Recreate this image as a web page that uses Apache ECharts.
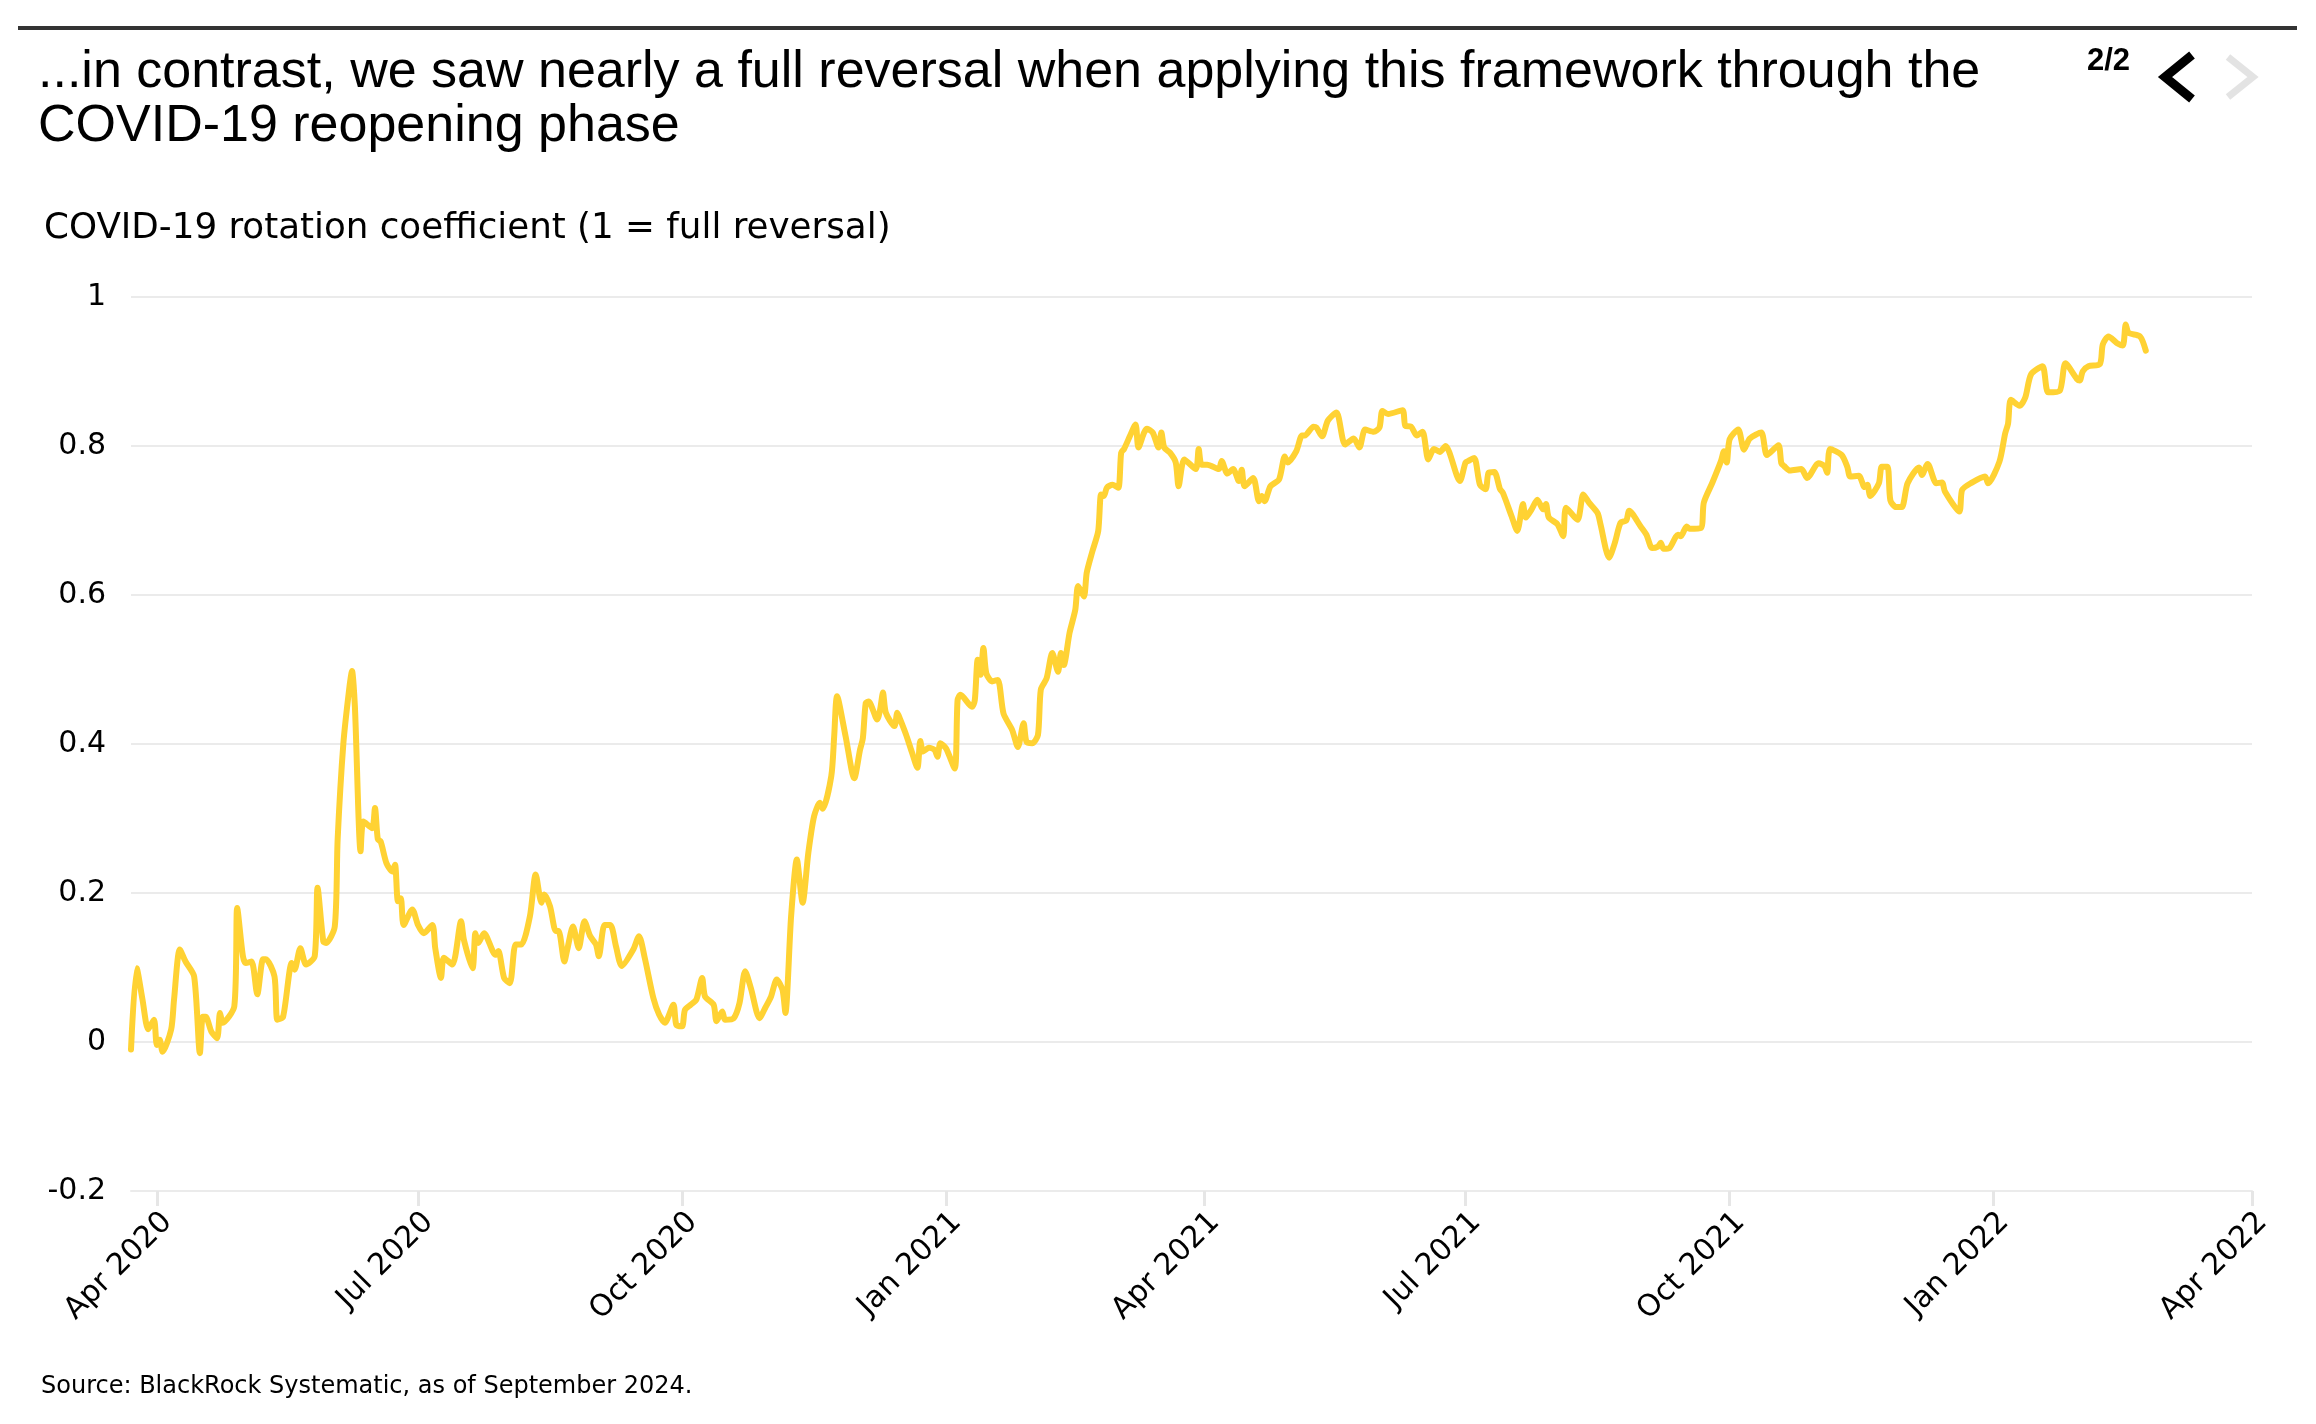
<!DOCTYPE html>
<html>
<head>
<meta charset="utf-8">
<script src="https://cdn.jsdelivr.net/npm/echarts@6/dist/echarts.min.js"></script>
<style>
html,body{margin:0;padding:0;background:#fff;}
#chart{width:2316px;height:1424px;}
</style>
</head>
<body>
<div id="chart"></div>
<script>
const days = [-9,-7,-5,-3,-1,0,1,2,5,6,8,10,13,15,16,17,19,21,22,23,27,28,30,31,33,35,37,38,41,42,44,47,48,50,52,55,56,58,59,62,63,65,67,68,69,71,72,75,76,77,78,80,82,83,84,85,86,89,91,93,96,97,99,100,103,106,107,110,111,112,114,118,119,121,123,125,127,130,132,134,135,137,139,140,142,143,145,147,149,151,153,154,156,158,160,162,166,168,170,173,175,177,180,181,183,184,186,188,190,191,194,195,197,198,201,203,205,207,210,212,214,216,218,219,221,223,225,227,229,231,232,235,236,237,240,243,245,246,247,248,251,252,253,254,257,258,259,261,263,265,266,267,269,271,272,273,275,278,279,280,284,285,286,287,288,289,291,293,295,298,300,302,303,305,307,308,310,312,314,315,316,318,320,321,323,324,326,328,329,330,331,333,335,336,337,339,341,342,344,345,347,349,350,351,353,355,356,358,362,363,364,366,370,371,373,375,377,378,379,382,384,385,386,388,391,393,394,397,399,400,403,404,406,408,411,414,417,419,421,424,426,427,429,434,435,437,439,441,443,445,447,449,454,456,457,459,461,463,464,466,468,469,472,474,476,477,479,481,483,484,485,488,490,491,495,497,499,502,503,506,508,510,512,513,517,519,521,523,524,525,527,530,531,533,534,538,539,542,545,546,547,548,551,553,555,559,561,565,566,567,569,573,575,579,581,582,583,587,589,590,593,595,596,597,600,601,603,604,606,608,610,614,615,617,620,622,623,628,629,632,637,638,642,644,645,646,649,651,653,657,659,663,665,669,670,671,673,677,678,680,683,685,686,687,691,693];
const values = [-0.010,0.099,0.057,0.017,0.030,-0.004,0.003,-0.013,0.017,0.057,0.124,0.108,0.088,-0.015,0.034,0.034,0.014,0.005,0.039,0.026,0.048,0.180,0.115,0.106,0.108,0.064,0.111,0.111,0.088,0.030,0.034,0.106,0.097,0.126,0.104,0.115,0.207,0.135,0.133,0.155,0.272,0.401,0.473,0.498,0.451,0.256,0.296,0.287,0.314,0.272,0.269,0.240,0.229,0.238,0.189,0.193,0.157,0.178,0.157,0.146,0.157,0.126,0.086,0.113,0.104,0.162,0.137,0.099,0.146,0.133,0.146,0.117,0.122,0.086,0.079,0.131,0.131,0.169,0.225,0.187,0.198,0.182,0.149,0.149,0.108,0.124,0.155,0.126,0.162,0.142,0.131,0.115,0.157,0.157,0.128,0.102,0.124,0.142,0.113,0.059,0.037,0.026,0.050,0.023,0.021,0.043,0.050,0.057,0.086,0.061,0.050,0.028,0.041,0.030,0.032,0.052,0.095,0.072,0.032,0.046,0.061,0.084,0.070,0.039,0.169,0.245,0.187,0.254,0.303,0.321,0.313,0.357,0.410,0.464,0.410,0.354,0.392,0.408,0.455,0.457,0.433,0.446,0.469,0.442,0.424,0.442,0.433,0.413,0.390,0.368,0.404,0.390,0.395,0.392,0.383,0.401,0.394,0.367,0.459,0.466,0.450,0.459,0.513,0.493,0.529,0.495,0.484,0.486,0.441,0.419,0.396,0.428,0.403,0.401,0.412,0.473,0.488,0.522,0.497,0.522,0.506,0.549,0.580,0.612,0.598,0.630,0.659,0.686,0.735,0.733,0.744,0.748,0.744,0.791,0.796,0.813,0.829,0.798,0.818,0.823,0.818,0.798,0.818,0.798,0.791,0.778,0.746,0.782,0.769,0.796,0.775,0.775,0.769,0.780,0.763,0.769,0.753,0.768,0.746,0.757,0.726,0.733,0.726,0.746,0.755,0.786,0.778,0.793,0.814,0.814,0.826,0.825,0.813,0.834,0.845,0.802,0.810,0.798,0.822,0.819,0.825,0.847,0.843,0.848,0.827,0.826,0.814,0.819,0.782,0.796,0.792,0.800,0.753,0.778,0.780,0.784,0.748,0.742,0.764,0.765,0.742,0.737,0.706,0.686,0.722,0.704,0.715,0.728,0.715,0.722,0.704,0.695,0.679,0.717,0.701,0.735,0.724,0.710,0.695,0.650,0.670,0.697,0.700,0.713,0.692,0.681,0.663,0.665,0.670,0.662,0.663,0.681,0.679,0.692,0.689,0.690,0.724,0.751,0.780,0.793,0.778,0.809,0.822,0.795,0.810,0.818,0.788,0.801,0.777,0.773,0.767,0.769,0.757,0.777,0.773,0.764,0.796,0.788,0.772,0.759,0.760,0.745,0.748,0.733,0.750,0.772,0.772,0.727,0.718,0.718,0.750,0.771,0.761,0.776,0.750,0.751,0.739,0.712,0.741,0.750,0.759,0.750,0.779,0.817,0.830,0.862,0.854,0.865,0.896,0.907,0.872,0.874,0.911,0.890,0.888,0.900,0.907,0.910,0.936,0.947,0.938,0.935,0.963,0.952,0.947,0.928];
const quarterTicks = ['2020-04-01','2020-07-01','2020-10-01','2021-01-01','2021-04-01','2021-07-01','2021-10-01','2022-01-01','2022-04-01'];
const monthNames = ['Jan','Feb','Mar','Apr','May','Jun','Jul','Aug','Sep','Oct','Nov','Dec'];

const titleLines = ['...in contrast, we saw nearly a full reversal when applying this framework through the', 'COVID-19 reopening phase'];
const subtitle = 'COVID-19 rotation coefficient (1 = full reversal)';
const source = 'Source: BlackRock Systematic, as of September 2024.';

const DAY = 86400000;
const origin = Date.UTC(2020, 3, 1);
const toTs = s => { const p = s.split('-').map(Number); return Date.UTC(p[0], p[1]-1, p[2]); };
const seriesData = days.map((d, i) => [origin + d * DAY, values[i]]);
const tickTs = quarterTicks.map(toTs);

const chart = echarts.init(document.getElementById('chart'), null, {renderer: 'canvas'});
const AX = '"DejaVu Sans", sans-serif';
chart.setOption({
  backgroundColor: '#ffffff',
  animation: false,
  grid: {left: 131, right: 64, top: 297, bottom: 233, containLabel: false},
  xAxis: {
    type: 'value',
    min: origin - 9 * DAY,
    max: toTs('2022-04-01'),
    axisLine: {show: true, onZero: false, lineStyle: {color: '#ebebeb', width: 2}},
    axisTick: {show: true, customValues: tickTs, length: 15, lineStyle: {color: '#e6e6e6', width: 3}},
    axisLabel: {
      customValues: tickTs,
      rotate: 45,
      margin: 16,
      verticalAlign: 'top',
      color: '#000',
      fontFamily: AX,
      fontSize: 30,
      formatter: v => { const d = new Date(v); return monthNames[d.getUTCMonth()] + ' ' + d.getUTCFullYear(); }
    },
    splitLine: {show: false}
  },
  yAxis: {
    type: 'value',
    min: -0.2,
    max: 1,
    interval: 0.2,
    axisLine: {show: false},
    axisTick: {show: false},
    axisLabel: {
      margin: 25,
      color: '#000',
      fontFamily: AX,
      fontSize: 30,
      formatter: v => String(Math.round(v * 10) / 10)
    },
    splitLine: {show: true, lineStyle: {color: '#ebebeb', width: 2}}
  },
  series: [{
    type: 'line',
    data: seriesData,
    showSymbol: false,
    smooth: 0.25,
    lineStyle: {color: '#FFD233', width: 6, join: 'round', cap: 'round'},
    itemStyle: {color: '#FFD233'}
  }],
  graphic: [
    {type: 'rect', shape: {x: 18, y: 26, width: 2279, height: 4}, style: {fill: '#333333'}},
    {type: 'text', style: {text: titleLines[0], x: 38, y: 73, font: '52px "Liberation Sans", Arial, sans-serif', fill: '#000', verticalAlign: 'middle'}},
    {type: 'text', style: {text: titleLines[1], x: 38, y: 127, font: '52px "Liberation Sans", Arial, sans-serif', fill: '#000', verticalAlign: 'middle'}},
    {type: 'text', style: {text: '2/2', x: 2087, y: 61, font: 'bold 31px "Liberation Sans", Arial, sans-serif', fill: '#000', verticalAlign: 'middle'}},
    {type: 'polyline', shape: {points: [[2192, 55], [2165, 77], [2192, 99]]}, style: {stroke: '#000', lineWidth: 9, fill: null, lineJoin: 'miter'}},
    {type: 'polyline', shape: {points: [[2228, 57], [2253, 77], [2228, 97]]}, style: {stroke: '#e3e3e3', lineWidth: 7, fill: null, lineJoin: 'miter'}},
    {type: 'text', style: {text: subtitle, x: 44, y: 229, font: '35.7px "DejaVu Sans", sans-serif', fill: '#000', verticalAlign: 'middle'}},
    {type: 'text', style: {text: source, x: 41, y: 1387, font: '24px "DejaVu Sans", sans-serif', fill: '#000', verticalAlign: 'middle'}}
  ]
});
</script>
</body>
</html>
